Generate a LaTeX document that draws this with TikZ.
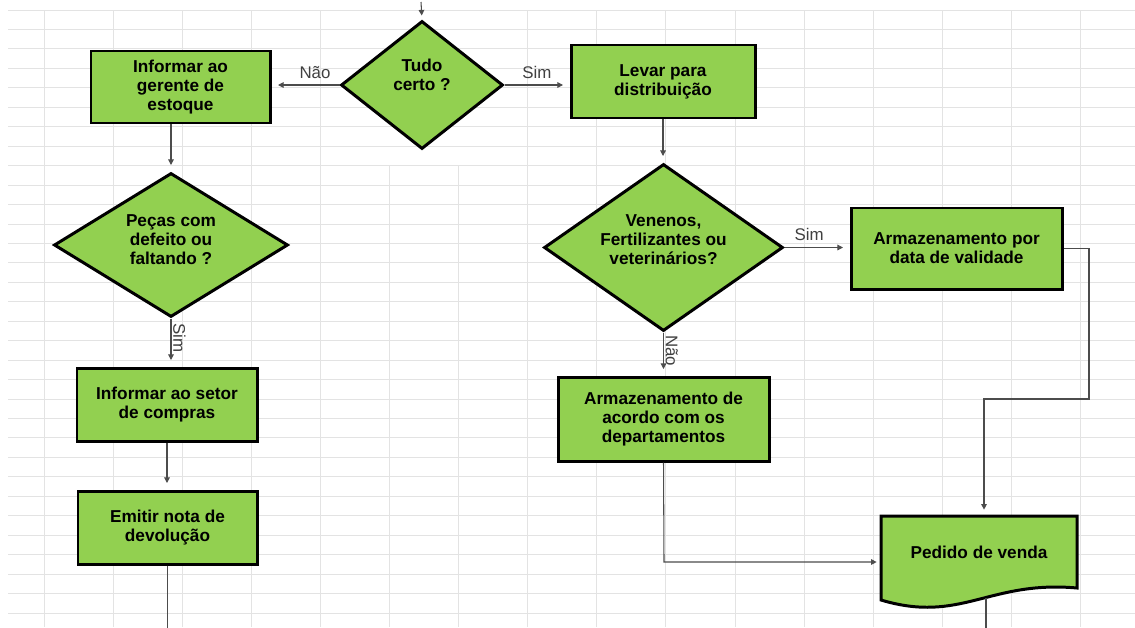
\documentclass[tikz,border=0pt]{standalone}
\usepackage{fontspec}
\setmainfont{Liberation Sans}
\usepackage{tikz}
\usetikzlibrary{shapes.geometric,arrows.meta}
\definecolor{leafgreen}{HTML}{92D050}
\definecolor{cellgrid}{HTML}{E3E3E3}
\tikzstyle{gridline}=[draw=cellgrid, line width=0.5pt]
\tikzstyle{process}=[draw=black, line width=1.7pt, fill=leafgreen, align=center, inner sep=2pt, font=\fontsize{9.8}{10.8}\selectfont\bfseries]
\tikzstyle{decision}=[diamond, draw=black, line width=1.7pt, fill=leafgreen, inner sep=0pt]
\tikzstyle{docbox}=[draw=black, line width=1.7pt, fill=leafgreen]
\tikzstyle{dtext}=[align=center, font=\fontsize{9.8}{10.8}\selectfont\bfseries]
\tikzstyle{wire}=[draw=black!70, line width=0.6pt]
\tikzstyle{flow}=[wire, -{Triangle[length=3.2pt,width=3.2pt]}, shorten >=1.3mm]
\tikzstyle{answer}=[text=black!75, font=\fontsize{9.6}{10}\selectfont]

\begin{document}
\begin{tikzpicture}[x=0.2mm, y=-0.2mm]
  \useasboundingbox (0,0) rectangle (1135,627);

  % spreadsheet cells
  \foreach \j in {0,...,31}
    \draw [style=gridline] (8,{10+19.45*\j}) -- (1135,{10+19.45*\j});
  \foreach \k in {0,1,2,3,4,7,8,9,10,11,12,13,14,15}
    \draw [style=gridline] ({44+69.1*\k},10) -- ({44+69.1*\k},627);
  \foreach \k in {5,6}
    \draw [style=gridline] ({44+69.1*\k},165) -- ({44+69.1*\k},627);

  % first question
  \node (tudo) [decision, minimum width=32.4mm, minimum height=25.6mm] at (422,85) {};
  \node (tudo-t) [dtext] at ([yshift=2mm]tudo.center) {Tudo\\certo ?};

  % left column
  \node (gerente) [process, minimum width=35.8mm, minimum height=14.4mm] at (180.5,87) {Informar ao\\gerente de\\estoque};
  \node (pecas) [decision, minimum width=46.8mm, minimum height=28.8mm] at (171,245) {};
  \node (pecas-t) [dtext] at ([yshift=1mm]pecas.center) {Peças com\\defeito ou\\faltando ?};
  \node (compras) [process, minimum width=36mm, minimum height=14.6mm] at (167,404.5) {Informar ao setor\\de compras};
  \node (devolucao) [process, minimum width=35.8mm, minimum height=14.6mm] at (167.5,527.5) {Emitir nota de\\devolução};

  % right column
  \node (levar) [process, minimum width=36.8mm, minimum height=14.6mm] at (663,81.5) {Levar para\\distribuição};
  \node (venenos) [decision, minimum width=47.8mm, minimum height=33.4mm] at (663.5,247.5) {};
  \node (venenos-t) [dtext] at ([yshift=1.6mm]venenos.center) {Venenos,\\Fertilizantes ou\\veterinários?};
  \node (validade) [process, minimum width=42.2mm, minimum height=16.2mm] at (956.5,248.5) {Armazenamento por\\data de validade};
  \node (acordo) [process, minimum width=42.2mm, minimum height=16.8mm] at (663.5,419) {Armazenamento de\\acordo com os\\departamentos};
  \filldraw [style=docbox] (881,516) -- (1077,516) -- (1077,588)
        .. controls +(-88,-8) and +(80,24) .. (881,600) -- cycle;
  \node (pedido) [dtext, minimum width=39.2mm, minimum height=14.2mm] at (979,552) {Pedido de venda};

  % connections
  \coordinate (top-in) at (421,2);
  \draw [style=flow, shorten >=0.8mm] (top-in) -- (tudo.north);
  \draw [style=flow] (tudo.west) -- (tudo.west -| gerente.east)
        node (nao1) [answer, pos=0.36, above] {Não};
  \draw [style=flow] (tudo.east) -- (tudo.east -| levar.west)
        node (sim1) [answer, midway, above] {Sim};
  \draw [style=flow] (pecas.north |- gerente.south) -- (pecas.north);
  \draw [style=flow] (pecas.south) -- (pecas.south |- compras.north)
        node (sim2) [answer, pos=0.4, rotate=-90, anchor=south, inner sep=1pt] {Sim};
  \draw [style=flow] (compras.south) -- (compras.south |- devolucao.north);
  \coordinate (dev-end) at (168,630);
  \draw [style=wire] (devolucao.south) -- (devolucao.south |- dev-end);

  \draw [style=flow] (levar.south) -- (levar.south |- venenos.north);
  \draw [style=flow] (venenos.east) -- (venenos.east -| validade.west)
        node (sim3) [answer, pos=0.38, above] {Sim};
  \draw [style=flow] (venenos.south) -- (venenos.south |- acordo.north)
        node (nao2) [answer, pos=0.42, rotate=-90, anchor=south, inner sep=1pt] {Não};
  \coordinate (val-turn) at (1089,399);
  \coordinate (val-drop) at (984,399);
  \draw [style=flow] (validade.east) -| (val-turn) -- (val-drop) -- (val-drop |- pedido.north);
  \coordinate (acc-turn) at (664,562);
  \draw [style=flow, shorten >=0.8mm] (acordo.south) -- (acc-turn) -- (acc-turn -| pedido.west);
  \coordinate (ped-low) at (986,598);
  \coordinate (ped-end) at (986,630);
  \draw [style=wire] (ped-low) -- (ped-end);

\end{tikzpicture}
\end{document}
